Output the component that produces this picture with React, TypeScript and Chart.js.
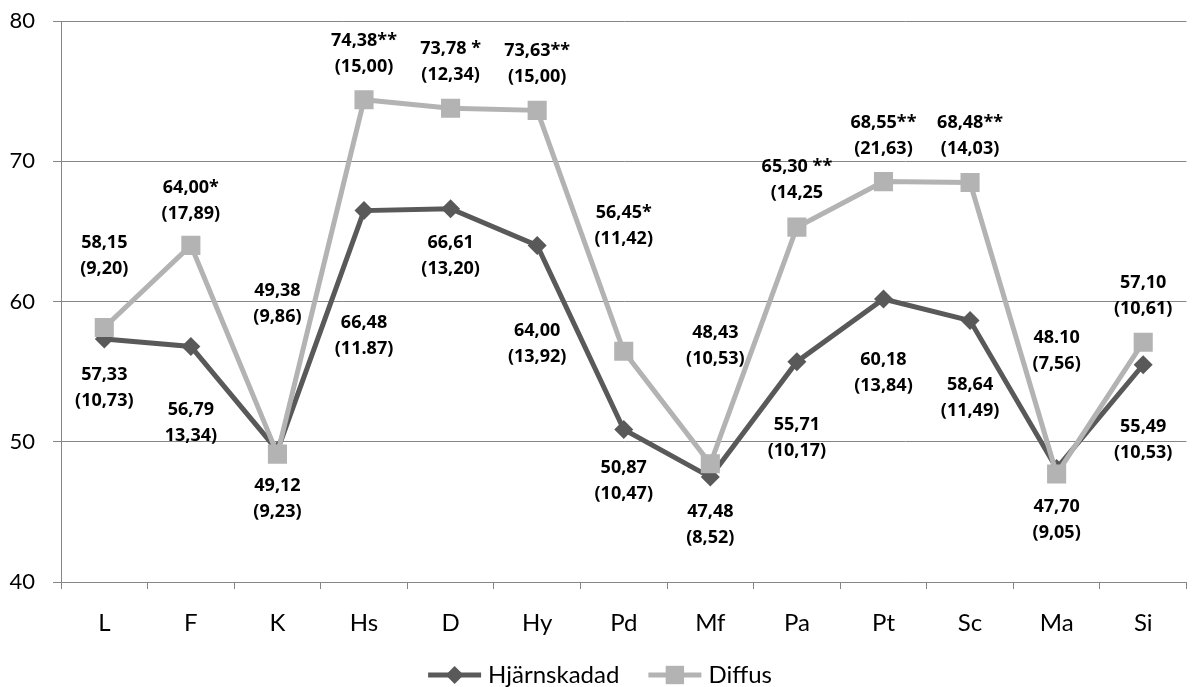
import React, { useEffect, useRef } from "react";
import { Chart, registerables } from "chart.js";

Chart.register(...registerables);

// ---- data ----
const categories = ["L", "F", "K", "Hs", "D", "Hy", "Pd", "Mf", "Pa", "Pt", "Sc", "Ma", "Si"];
const hjarnskadad = [57.33, 56.79, 49.38, 66.48, 66.61, 64.0, 50.87, 47.48, 55.71, 60.18, 58.64, 48.1, 55.49];
const diffus = [58.15, 64.0, 49.12, 74.38, 73.78, 73.63, 56.45, 48.43, 65.3, 68.55, 68.48, 47.7, 57.1];
const yMin = 40;
const yMax = 80;
const yStep = 10;

const hjarnValueText = ["57,33", "56,79", "49,38", "66,48", "66,61", "64,00", "50,87", "47,48", "55,71", "60,18", "58,64", "48.10", "55,49"];
const hjarnSdText = ["(10,73)", "13,34)", "(9,86)", "(11.87)", "(13,20)", "(13,92)", "(10,47)", "(8,52)", "(10,17)", "(13,84)", "(11,49)", "(7,56)", "(10,53)"];
const diffusValueText = ["58,15", "64,00*", "49,12", "74,38**", "73,78 *", "73,63**", "56,45*", "48,43", "65,30 **", "68,55**", "68,48**", "47,70", "57,10"];
const diffusSdText = ["(9,20)", "(17,89)", "(9,23)", "(15,00)", "(12,34)", "(15,00)", "(11,42)", "(10,53)", "(14,25", "(21,63)", "(14,03)", "(9,05)", "(10,61)"];

// label placement relative to each point (pixels)
const hjarnLabelDy = [36, 63, -160, 112, 34, 85, 38, 35, 63, 61, 64, -131, 62];
const hjarnLabelDx = [0, 0, 0, 0, 0, 0, 0, 0, 0, 0, 0, 0, 0];
const diffusLabelDy = [-85, -58, 32, -59, -59, -59, -138, -131, -60, -59, -60, 33, -59];
const diffusLabelDx = [0, 0, 0, 0, 0, 0, 0, 5, 0, 0, 0, 0, 0];

const HJ_COLOR = "#595959";
const DI_COLOR = "#b3b3b3";
const GRID_COLOR = "#868686";
const FONT = "Lato";
const LABEL_FONT = "'Open Sans'";

const labelSets = [
  { value: hjarnValueText, sd: hjarnSdText, dx: hjarnLabelDx, dy: hjarnLabelDy },
  { value: diffusValueText, sd: diffusSdText, dx: diffusLabelDx, dy: diffusLabelDy },
];

const pointLabelPlugin = {
  id: "pointLabels",
  afterDatasetsDraw(chart: any) {
    const ctx = chart.ctx;
    ctx.save();
    ctx.font = `bold 18px ${LABEL_FONT}`;
    ctx.fillStyle = "#000";
    ctx.textAlign = "center";
    ctx.textBaseline = "middle";
    labelSets.forEach((set, di) => {
      const meta = chart.getDatasetMeta(di);
      meta.data.forEach((pt: any, i: number) => {
        const x = pt.x + set.dx[i];
        const y = pt.y + set.dy[i];
        ctx.fillText(set.value[i], x, y);
        ctx.fillText(set.sd[i], x, y + 26);
      });
    });
    ctx.restore();
  },
};

function drawMarker(ctx: CanvasRenderingContext2D, style: string, x: number, y: number, r: number, color: string) {
  ctx.fillStyle = color;
  ctx.beginPath();
  if (style === "rectRot") {
    ctx.moveTo(x, y - r);
    ctx.lineTo(x + r, y);
    ctx.lineTo(x, y + r);
    ctx.lineTo(x - r, y);
    ctx.closePath();
  } else {
    const s = r * Math.SQRT1_2;
    ctx.rect(x - s, y - s, 2 * s, 2 * s);
  }
  ctx.fill();
}

const legendPlugin = {
  id: "lineLegend",
  afterDraw(chart: any) {
    const ctx = chart.ctx;
    const items = chart.data.datasets.map((ds: any) => ({
      text: ds.label,
      color: ds.borderColor,
      style: ds.pointStyle,
    }));
    ctx.save();
    ctx.font = `24px ${FONT}`;
    ctx.textBaseline = "middle";
    ctx.textAlign = "left";
    const lineW = 53;
    const gap = 7;
    const itemGap = 29;
    const widths = items.map((it: any) => ctx.measureText(it.text).width);
    let total = 0;
    widths.forEach((w: number, i: number) => {
      total += lineW + gap + w + (i > 0 ? itemGap : 0);
    });
    let x = chart.width / 2 - total / 2;
    const y = chart.height - 12;
    items.forEach((it: any, i: number) => {
      ctx.strokeStyle = it.color;
      ctx.lineWidth = 5;
      ctx.beginPath();
      ctx.moveTo(x, y);
      ctx.lineTo(x + lineW, y);
      ctx.stroke();
      drawMarker(ctx, it.style, x + lineW / 2, y, it.style === "rect" ? 13 : 9, it.color);
      ctx.fillStyle = "#000";
      ctx.fillText(it.text, x + lineW + gap, y);
      x += lineW + gap + widths[i] + itemGap;
    });
    ctx.restore();
  },
};

export default function App() {
  const ref = useRef<HTMLCanvasElement>(null);

  useEffect(() => {
    if (!ref.current) return;
    Chart.defaults.font.family = FONT;
    const chart = new Chart(ref.current, {
      type: "line",
      data: {
        labels: categories,
        datasets: [
          {
            label: "Hjärnskadad",
            data: hjarnskadad,
            borderColor: HJ_COLOR,
            backgroundColor: HJ_COLOR,
            borderWidth: 5,
            pointStyle: "rectRot",
            pointRadius: 9.5,
            pointHoverRadius: 9.5,
            pointBorderWidth: 0,
            pointBackgroundColor: HJ_COLOR,
            tension: 0,
            order: 2,
          },
          {
            label: "Diffus",
            data: diffus,
            borderColor: DI_COLOR,
            backgroundColor: DI_COLOR,
            borderWidth: 5,
            pointStyle: "rect",
            pointRadius: 13.5,
            pointHoverRadius: 13.5,
            pointBorderWidth: 0,
            pointBackgroundColor: DI_COLOR,
            tension: 0,
            order: 1,
          },
        ],
      },
      options: {
        responsive: false,
        animation: false,
        devicePixelRatio: 1,
        layout: { padding: { top: 21, right: 4, left: 0, bottom: 0 } },
        plugins: {
          legend: { display: false },
          tooltip: { enabled: false },
        },
        scales: {
          x: {
            type: "category",
            offset: true,
            grid: {
              offset: true,
              drawOnChartArea: false,
              drawTicks: true,
              tickLength: 7,
              color: GRID_COLOR,
              lineWidth: 1,
            },
            border: { color: GRID_COLOR, width: 1 },
            ticks: {
              font: { size: 24, family: FONT },
              color: "#000",
              padding: 20,
              maxRotation: 0,
              autoSkip: false,
            },
            afterFit: (s: any) => {
              s.height = 105;
              s.paddingLeft = 0;
              s.paddingRight = 0;
            },
          },
          y: {
            min: yMin,
            max: yMax,
            ticks: {
              stepSize: yStep,
              font: { size: 22, family: FONT },
              color: "#000",
              padding: 18,
            },
            grid: { color: GRID_COLOR, tickLength: 8, lineWidth: 1 },
            border: { color: GRID_COLOR, width: 1 },
            afterFit: (s: any) => {
              s.width = 61;
              s.paddingTop = 0;
              s.paddingBottom = 0;
            },
          },
        },
      },
      plugins: [pointLabelPlugin, legendPlugin],
    } as any);
    return () => chart.destroy();
  }, []);

  return (
    <div
      style={{
        position: "fixed",
        left: 0,
        top: 0,
        width: 1192,
        height: 687,
        overflow: "hidden",
        background: "#fff",
      }}
    >
      <canvas ref={ref} width={1200} height={687} style={{ display: "block", width: 1200, height: 687 }} />
    </div>
  );
}
